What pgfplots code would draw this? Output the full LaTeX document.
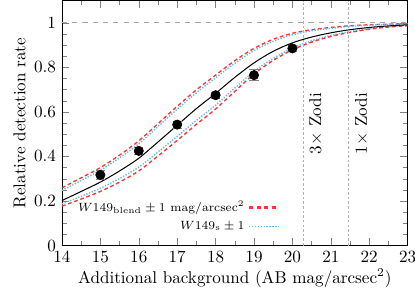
\documentclass[border=0pt]{standalone}
\usepackage{pgfplots}
\pgfplotsset{compat=1.18}
\definecolor{myred}{rgb}{0.95,0.22,0.22}
\definecolor{myblue}{rgb}{0.40,0.72,0.93}
\begin{document}
\begin{tikzpicture}
\begin{axis}[
  name=ax,
  scale only axis,
  width=202pt, height=143.2pt,
  xmin=14, xmax=23, ymin=0, ymax=1.1,
  xtick={14,...,23},
  ytick={0,0.2,0.4,0.6,0.8,1},
  minor x tick num=1,
  minor y tick num=3,
  tick align=inside,
  xlabel={Additional background (AB mag/arcsec$^2$)},
  ylabel={Relative detection rate},
  xlabel style={yshift=3pt},
  ylabel style={yshift=-2pt},
  legend plot pos=right,
  legend cell align=right,
  legend style={draw=none, fill=none, at={(axis cs:19.8,0.03)}, anchor=south east,
    row sep=0pt, font=\scriptsize},
]
\addlegendimage{color=red!80!white, line width=1.2pt, dash pattern=on 2.5pt off 1.9pt}
\addlegendentry{$W149_{\rm blend}\pm1$ mag/arcsec$^2$}
\addlegendimage{color=myblue, line width=0.8pt, dash pattern=on 0.8pt off 0.9pt}
\addlegendentry{$W149_{\rm s}\pm1$}
% upper red
\addplot[myred, line width=0.8pt, dash pattern=on 2.2pt off 1.6pt, smooth, forget plot] coordinates {
(14,0.259) (14.5,0.304) (15,0.350) (15.5,0.406) (16,0.470) (16.5,0.547) (17,0.625) (17.5,0.699) (18,0.765) (18.5,0.830) (19,0.885) (19.5,0.926) (20,0.953) (20.5,0.969) (21,0.979) (21.5,0.987) (22,0.991) (22.5,0.994) (23,0.996)};
% upper blue
\addplot[myblue, line width=0.8pt, dash pattern=on 0.8pt off 0.9pt, smooth, forget plot] coordinates {
(14,0.247) (14.5,0.292) (15,0.338) (15.5,0.394) (16,0.457) (16.5,0.534) (17,0.612) (17.5,0.686) (18,0.753) (18.5,0.818) (19,0.875) (19.5,0.917) (20,0.946) (20.5,0.964) (21,0.975) (21.5,0.984) (22,0.989) (22.5,0.993) (23,0.995)};
% lower blue
\addplot[myblue, line width=0.8pt, dash pattern=on 0.8pt off 0.9pt, smooth, forget plot] coordinates {
(14,0.187) (14.5,0.221) (15,0.257) (15.5,0.301) (16,0.352) (16.5,0.420) (17,0.490) (17.5,0.562) (18,0.630) (18.5,0.707) (19,0.782) (19.5,0.840) (20,0.887) (20.5,0.919) (21,0.943) (21.5,0.960) (22,0.973) (22.5,0.982) (23,0.988)};
% lower red
\addplot[myred, line width=0.8pt, dash pattern=on 2.2pt off 1.6pt, smooth, forget plot] coordinates {
(14,0.177) (14.5,0.209) (15,0.243) (15.5,0.285) (16,0.335) (16.5,0.402) (17,0.472) (17.5,0.544) (18,0.613) (18.5,0.692) (19,0.770) (19.5,0.831) (20,0.879) (20.5,0.913) (21,0.939) (21.5,0.957) (22,0.971) (22.5,0.981) (23,0.987)};
% black model
\addplot[black, line width=0.6pt, smooth, forget plot] coordinates {
(14,0.202) (14.5,0.243) (15,0.285) (15.5,0.335) (16,0.392) (16.5,0.465) (17,0.540) (17.5,0.615) (18,0.683) (18.5,0.755) (19,0.820) (19.5,0.872) (20,0.910) (20.5,0.936) (21,0.955) (21.5,0.969) (22,0.979) (22.5,0.986) (23,0.991)};
% reference lines
\addplot[gray!70, dashed, line width=0.4pt, forget plot] coordinates {(14,1) (23,1)};
\addplot[gray!60, dash pattern=on 1.5pt off 1.2pt, line width=0.6pt, forget plot] coordinates {(20.28,0) (20.28,1.1)};
\addplot[gray!60, dash pattern=on 1.5pt off 1.2pt, line width=0.6pt, forget plot] coordinates {(21.47,0) (21.47,1.1)};
% data points
\addplot[only marks, mark=*, mark size=2.7pt, black, forget plot,
  error bars/.cd, y dir=both, y explicit, error bar style={gray, line width=0.6pt}] coordinates {
(15,0.317) +- (0,0.02)
(16,0.425) +- (0,0.015)
(17,0.543) +- (0,0.015)
(18,0.675) +- (0,0.015)
(19,0.765) +- (0,0.025)
(20,0.885) +- (0,0.015)};
\node[rotate=90, anchor=north east, xshift=1pt] at (axis cs:20.28,0.705) {$3\times$ Zodi};
\node[rotate=90, anchor=north east, xshift=1pt] at (axis cs:21.47,0.705) {$1\times$ Zodi};
\end{axis}
\pgfresetboundingbox
\path (ax.south west) ++(-36.2pt,-25.1pt) coordinate (bl);
\path (ax.north east) ++(4.3pt,0.3pt) coordinate (tr);
\useasboundingbox (bl) rectangle (tr);
\end{tikzpicture}
\end{document}
